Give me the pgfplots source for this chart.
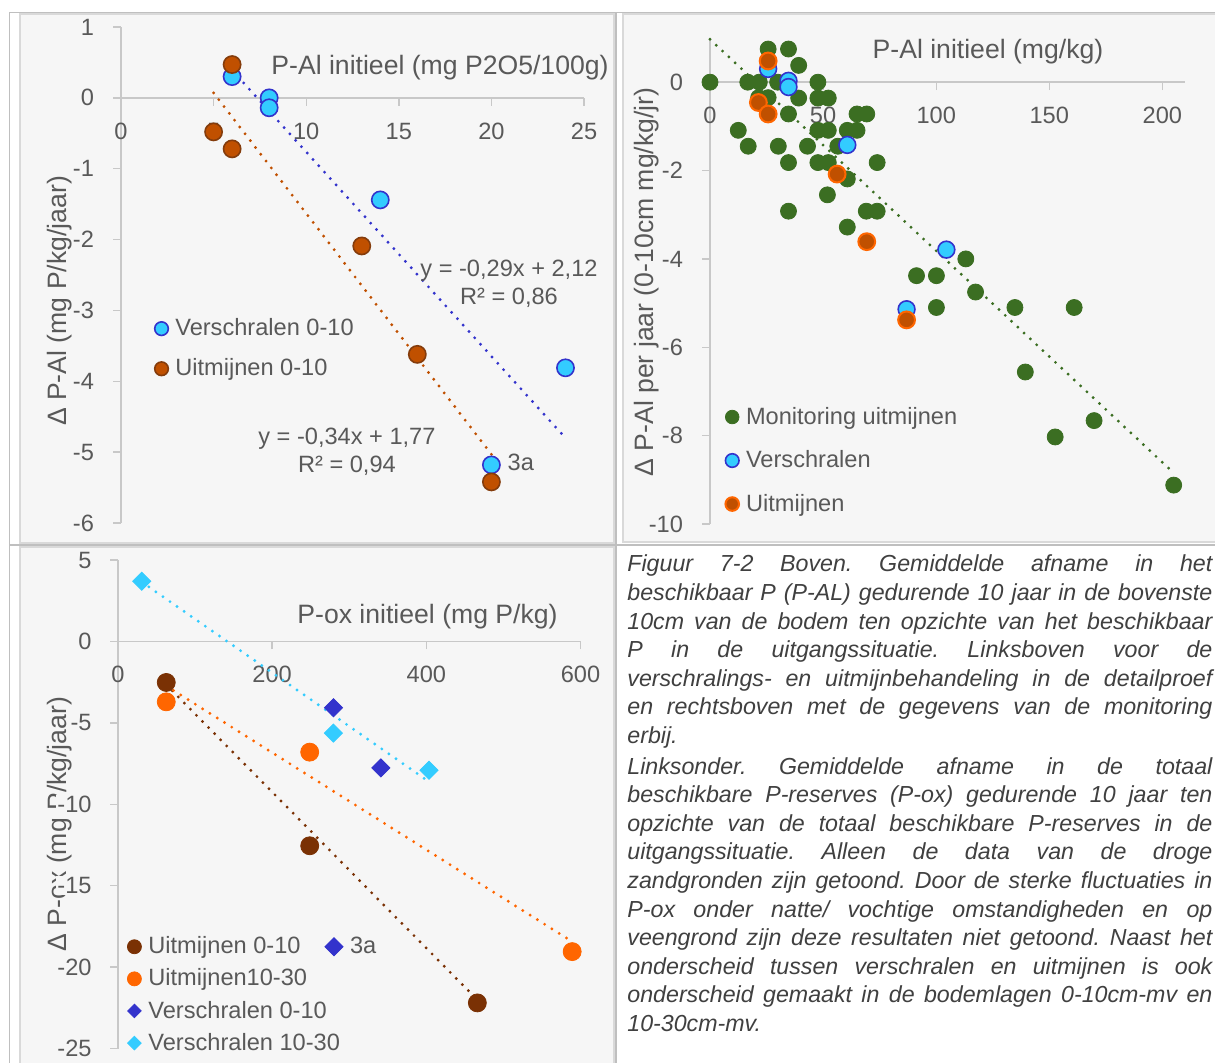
\documentclass[border=0pt]{standalone}
\usepackage{pgfplots}
\pgfplotsset{compat=1.18}
\usepackage{fontspec}
\setmainfont{Liberation Sans}
\definecolor{panelbg}{HTML}{F6F6F6}
\definecolor{framec}{HTML}{D9D9D9}
\definecolor{gridl}{HTML}{BFBFBF}
\definecolor{axgray}{HTML}{C8C8C8}
\definecolor{txt}{HTML}{595959}
\definecolor{captxt}{HTML}{404040}
\definecolor{cyanb}{HTML}{33CCFF}
\definecolor{dblue}{HTML}{3333CC}
\definecolor{rust}{HTML}{C05000}
\definecolor{rustedge}{HTML}{843C0C}
\definecolor{mgreen}{HTML}{3B6E22}
\definecolor{orng}{HTML}{FF6600}
\definecolor{dbrown}{HTML}{7A3104}
\newcommand\tl{\fontsize{11.8}{14}\selectfont}
\newcommand\ttl{\fontsize{13.3}{16}\selectfont}
\pgfplotsset{
  panel/.style={
    scale only axis, anchor=south west, clip=false,
    axis lines=middle, axis line style={draw=axgray, line width=0.7pt, -},
    hide obscured x ticks=false, hide obscured y ticks=false,
    tick align=outside, major tick length=4pt,
    tick style={draw=axgray, line width=0.7pt},
    tick label style={font=\tl, text=txt},
    /pgf/number format/assume math mode=true,
    xticklabel style={yshift=-5pt},
    yticklabel style={xshift=-6pt},
    legend style={draw=none, fill=none, font=\tl, text=txt, nodes={inner sep=1.5pt},
      /tikz/every odd column/.append style={column sep=2pt}},
    legend cell align=left,
  },
  trend/.style={line width=1.6pt, line cap=round, dash pattern=on 0pt off 4.3pt, forget plot},
}
\begin{document}
\begin{tikzpicture}
\begin{scope}[x=0.5pt,y=-0.5pt]
\useasboundingbox (0,0) rectangle (1215,1063);
\fill[white] (0,0) rectangle (1215,1063);
\filldraw[fill=panelbg, draw=framec, line width=0.6pt] (20,14) rectangle (614,543);
\filldraw[fill=panelbg, draw=framec, line width=0.6pt] (623,14) rectangle (1220,542);
\filldraw[fill=panelbg, draw=framec, line width=0.6pt] (20,547) rectangle (614,1070);
\draw[gridl, line width=0.8pt] (9.5,12.5) -- (1215,12.5);
\draw[gridl, line width=0.8pt] (9.5,12.5) -- (9.5,1063);
\draw[gridl, line width=0.8pt] (616,12.5) -- (616,1063);
\draw[gridl, line width=0.8pt] (9.5,545) -- (1215,545);
% axis titles
\node[font=\ttl, text=txt] at (440,68) {P-Al initieel (mg P2O5/100g)};
\node[font=\ttl, text=txt, rotate=90] at (60,301) {Δ P-Al (mg P/kg/jaar)};
\node[font=\ttl, text=txt] at (988,52) {P-Al initieel (mg/kg)};
\node[font=\ttl, text=txt, rotate=90] at (647,282) {Δ P-Al per jaar (0-10cm mg/kg/jr)};
\node[font=\ttl, text=txt] at (427.5,617) {P-ox initieel (mg P/kg)};
\node[font=\ttl, text=txt, rotate=90] at (60,824) {Δ P-ox (mg P/kg/jaar)};
\end{scope}

% ---------- Panel 1 ----------
\begin{axis}[panel, at={(60.5pt,-261.5pt)}, width=231.5pt, height=248pt,
  xmin=0, xmax=25, ymin=-6, ymax=1, xtick={0,5,...,25}, ytick={-6,-5,...,1},
  legend style={at={(rel axis cs:0.059,0.427)}, anchor=north west, row sep=7pt},
  legend image code/.code={\draw[mark repeat=2,mark phase=2,#1] plot coordinates {(0cm,0cm) (0.12cm,0cm) (0.34cm,0cm)};},
  legend image post style={mark size=3.4pt},
]
\addplot[only marks, mark=*, mark size=4.3pt, draw=dblue, fill=cyanb, line width=0.8pt] coordinates {
(6,0.30) (8,0.0) (8,-0.14) (14,-1.44) (24,-3.81) (20,-5.18)};
\addlegendentry{Verschralen 0-10}
\addplot[only marks, mark=*, mark size=4.3pt, draw=rustedge, fill=rust, line width=0.8pt] coordinates {
(6,0.47) (5,-0.48) (6,-0.72) (13,-2.09) (16,-3.62) (20,-5.42)};
\addlegendentry{Uitmijnen 0-10}
\addplot[trend, dblue] coordinates {(6,0.39) (24,-4.80)};
\addplot[trend, rust] coordinates {(5,0.07) (20,-5.03)};
\node[font=\tl, text=txt, anchor=west] at (axis cs:20.5,-5.15) {3a};
\node[font=\tl, text=txt, align=center] at (axis cs:20.95,-2.625) {y = -0,29x + 2,12\\R² = 0,86};
\node[font=\tl, text=txt, align=center] at (axis cs:12.2,-5.0) {y = -0,34x + 1,77\\R² = 0,94};
\end{axis}

% ---------- Panel 2 ----------
\begin{axis}[panel, at={(355pt,-262pt)}, width=237.5pt, height=243pt,
  xmin=0, xmax=210, ymin=-10, ymax=1, xtick={0,50,...,200}, ytick={-10,-8,...,0},
  legend style={at={(rel axis cs:0.019,0.256)}, anchor=north west, row sep=8.7pt},
  legend image code/.code={\draw[mark repeat=2,mark phase=2,#1] plot coordinates {(0cm,0cm) (0.12cm,0cm) (0.34cm,0cm)};},
  legend image post style={mark size=3.4pt},
]
\addplot[only marks, mark=*, mark size=4pt, draw=mgreen, fill=mgreen] coordinates {
(0,0) (25.7,0.75) (34.7,0.75) (39.2,0.38) (16.7,0) (21.8,0) (29.9,0) (47.7,0)
(21.5,-0.35) (25.7,-0.35) (39.2,-0.36) (47.7,-0.36) (52.3,-0.36)
(34.7,-0.72) (65,-0.72) (69.3,-0.72)
(12.5,-1.09) (47.7,-1.09) (52.3,-1.09) (60.7,-1.09) (65,-1.09)
(16.9,-1.45) (30.2,-1.45) (43.1,-1.45) (56.5,-1.45)
(34.7,-1.82) (47.7,-1.82) (52.3,-1.82) (73.9,-1.82)
(60.7,-2.19) (51.9,-2.55) (34.7,-2.92) (69.1,-2.92) (73.9,-2.92) (60.7,-3.28)
(113.1,-4.0) (91.3,-4.38) (100.1,-4.38) (117.4,-4.75)
(100.1,-5.1) (134.8,-5.1) (161,-5.1) (139.4,-6.56) (152.6,-8.03) (169.8,-7.66) (205,-9.12)};
\addlegendentry{Monitoring uitmijnen}
\addplot[only marks, mark=*, mark size=4.2pt, draw=dblue, fill=cyanb, line width=0.8pt] coordinates {
(25.7,0.30) (34.7,0.03) (34.7,-0.11) (60.7,-1.42) (104.5,-3.79) (86.9,-5.14)};
\addlegendentry{Verschralen}
\addplot[only marks, mark=*, mark size=4.2pt, draw=orng, fill=rust, line width=1pt] coordinates {
(25.7,0.48) (21.4,-0.46) (25.7,-0.72) (56.2,-2.08) (69.3,-3.61) (86.9,-5.38)};
\addlegendentry{Uitmijnen}
\addplot[trend, mgreen] coordinates {(0,0.97) (204.5,-8.82)};
\end{axis}

% ---------- Panel 3 ----------
\begin{axis}[panel, at={(59pt,-524.25pt)}, width=231.25pt, height=244.25pt,
  xmin=0, xmax=600, ymin=-25, ymax=5, xtick={0,200,400,600}, ytick={-25,-20,...,5},
  yticklabel style={fill=panelbg, inner sep=0.5pt, xshift=-2.5pt},
  legend columns=2,
  legend style={at={(rel axis cs:0.0065,0.244)}, anchor=north west, row sep=3pt,
    /tikz/every even column/.append style={column sep=-9pt}},
  legend image code/.code={\draw[mark repeat=2,mark phase=2,#1] plot coordinates {(0cm,0cm) (0.12cm,0cm) (0.34cm,0cm)};},
]
\addlegendimage{only marks, mark=*, dbrown, mark size=3.5pt}
\addlegendentry{Uitmijnen 0-10}
\addlegendimage{only marks, mark=square*, mark options={rotate=45}, dblue, mark size=3.2pt}
\addlegendentry{3a}
\addlegendimage{only marks, mark=*, orng, mark size=3.5pt}
\addlegendentry{Uitmijnen10-30}
\addlegendimage{empty legend}
\addlegendentry{}
\addlegendimage{only marks, mark=square*, mark options={rotate=45}, dblue, mark size=2.4pt}
\addlegendentry{Verschralen 0-10}
\addlegendimage{empty legend}
\addlegendentry{}
\addlegendimage{only marks, mark=square*, mark options={rotate=45}, cyanb, mark size=2.4pt}
\addlegendentry{Verschralen 10-30}
\addplot[forget plot, only marks, mark=*, mark size=4.5pt, dbrown] coordinates {
(62.6,-2.52) (248.7,-12.55) (466.2,-22.2)};
\addplot[forget plot, only marks, mark=*, mark size=4.5pt, orng] coordinates {
(62.6,-3.71) (248.7,-6.8) (589.2,-19.05)};
\addplot[forget plot, only marks, mark=square*, mark options={rotate=45}, mark size=3.2pt, dblue] coordinates {
(279.5,-4.07) (341,-7.77)};
\addplot[forget plot, only marks, mark=square*, mark options={rotate=45}, mark size=3.2pt, cyanb] coordinates {
(30.8,3.7) (279.5,-5.63) (403.5,-7.91)};
\addplot[trend, dbrown] coordinates {(62.6,-2.66) (466,-22.0)};
\addplot[trend, orng] coordinates {(62.6,-2.73) (588,-18.4)};
\addplot[trend, cyanb] coordinates {(30.8,3.65) (403.5,-8.62)};
\end{axis}

% ---------- Caption ----------
\node[anchor=base west, inner sep=0pt] at (313.5pt,-277.5pt) {%
\begin{minipage}[t]{292.5pt}
\fontsize{11.6}{14.3}\selectfont\itshape\color{captxt}\frenchspacing
\tolerance=10000 \hyphenpenalty=10000 \exhyphenpenalty=10000 \parindent=0pt \parskip=1pt
Figuur 7-2 Boven. Gemiddelde afname in het\linebreak
beschikbaar P (P-AL) gedurende 10 jaar in de bovenste\linebreak
10cm van de bodem ten opzichte van het beschikbaar\linebreak
P in de uitgangssituatie. Linksboven voor de\linebreak
verschralings- en uitmijnbehandeling in de detailproef\linebreak
en rechtsboven met de gegevens van de monitoring\linebreak
erbij.\par
Linksonder. Gemiddelde afname in de totaal\linebreak
beschikbare P-reserves (P-ox) gedurende 10 jaar ten\linebreak
opzichte van de totaal beschikbare P-reserves in de\linebreak
uitgangssituatie. Alleen de data van de droge\linebreak
zandgronden zijn getoond. Door de sterke fluctuaties in\linebreak
P-ox onder natte/ vochtige omstandigheden en op\linebreak
veengrond zijn deze resultaten niet getoond. Naast het\linebreak
onderscheid tussen verschralen en uitmijnen is ook\linebreak
onderscheid gemaakt in de bodemlagen 0-10cm-mv en\linebreak
10-30cm-mv.
\end{minipage}};
\end{tikzpicture}
\end{document}
